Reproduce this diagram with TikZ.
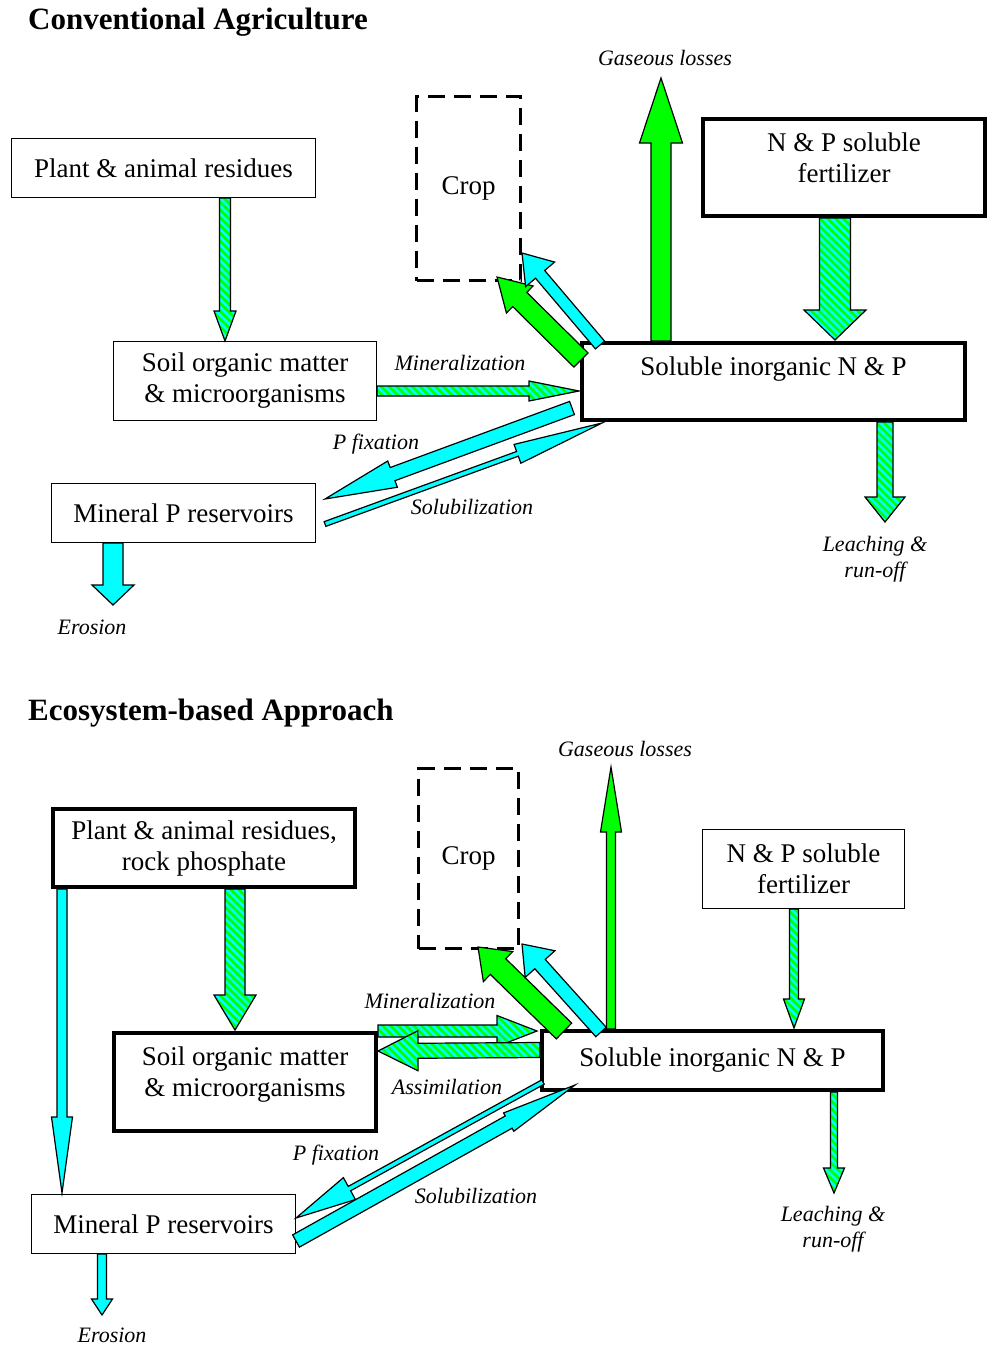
\documentclass[tikz,border=0pt]{standalone}
\usepackage{fontspec}
\setmainfont{Liberation Serif}
\usetikzlibrary{calc,patterns.meta}
\definecolor{agreen}{RGB}{0,255,0}
\definecolor{acyan}{RGB}{0,255,255}
\newcommand\liftup[2]{\raisebox{#1}[\height][\depth]{\begin{tabular}{@{}c@{}}#2\end{tabular}}}
% #1 style, #2 tail coordinate, #3 tip coordinate, #4 shaft half width, #5 head half width, #6 head length
\newcommand\barrow[6]{%
  \coordinate (bh) at ($(#3)!#6!(#2)$);
  \draw[#1] ($(#2)!#4!90:(#3)$) -- ($(bh)!#4!90:(#3)$) -- ($(bh)!#5!90:(#3)$) -- (#3)
     -- ($(bh)!#5!-90:(#3)$) -- ($(bh)!#4!-90:(#3)$) -- ($(#2)!#4!-90:(#3)$) -- cycle;
}
\tikzset{
  box/.style={draw, line width=1pt, align=center, font=\fontsize{27}{31}\selectfont, inner sep=0pt},
  thickbox/.style={box, line width=3.5pt},
  cropbox/.style={box, line width=3pt, dash pattern=on 17pt off 9pt},
  lbl/.style={font=\fontsize{22}{26}\selectfont\itshape, inner sep=0pt, align=center},
  ttl/.style={font=\fontsize{31}{35}\selectfont\bfseries, anchor=west, inner sep=0pt},
  arr/.style={draw=black, line width=1.2pt, line join=miter},
  cyanarr/.style={arr, fill=acyan},
  greenarr/.style={arr, fill=agreen},
  hatcharr/.style={arr, preaction={fill=agreen}, pattern={Lines[angle=-45,distance=5.5pt,line width=2.6pt]}, pattern color=acyan},
}
\begin{document}
\begin{tikzpicture}[x=1pt,y=-1pt]
\useasboundingbox (0,0) rectangle (990,1347);
% titles
\node[ttl] (t1) at (28,22) {Conventional Agriculture};
\node[ttl] (t2) at (28,713) {Ecosystem-based Approach};

% ---------- top diagram ----------
\node[box, minimum width=304pt, minimum height=59pt] (res1) at (163.5,168) {Plant \& animal residues};
\node[cropbox, minimum width=104pt, minimum height=184pt] (crop1) at (468.5,188.5) {Crop};
\node[thickbox, minimum width=282pt, minimum height=97pt] (fert1) at (844,167.5) {\liftup{7pt}{N \& P soluble\\fertilizer}};
\node[box, minimum width=263pt, minimum height=79pt] (soil1) at (245,381) {Soil organic matter\\\& microorganisms};
\node[thickbox, minimum width=383pt, minimum height=77pt] (sol1) at (773.5,381.5) {\liftup{12pt}{Soluble inorganic N \& P}};
\node[box, minimum width=264pt, minimum height=59pt] (min1) at (183.5,513) {Mineral P reservoirs};

\node[lbl] (gas1) at (665,58) {Gaseous losses};
\node[lbl] (minl1) at (460,363) {Mineralization};
\node[lbl] (pfix1) at (376,444) {P fixation};
\node[lbl] (solu1) at (472,507) {Solubilization};
\node[lbl] (leach1) at (875,559) {Leaching \&\\run-off};
\node[lbl] (ero1) at (92,627) {Erosion};

\coordinate (a1s) at (225,198);  \coordinate (a1e) at (225,341);
\coordinate (a2s) at (377,391);  \coordinate (a2e) at (579,391);
\coordinate (a3s) at (572,408);  \coordinate (a3e) at (325,499);
\coordinate (a4s) at (325,524);  \coordinate (a4e) at (602,423);
\coordinate (a5s) at (581,360);  \coordinate (a5e) at (497,277);
\coordinate (a6s) at (600,345);  \coordinate (a6e) at (522,253);
\coordinate (a7s) at (661,341);  \coordinate (a7e) at (661,78);
\coordinate (a8s) at (835,218);  \coordinate (a8e) at (835,340);
\coordinate (a9s) at (885,422);  \coordinate (a9e) at (885,522);
\coordinate (a10s) at (113,543); \coordinate (a10e) at (113,605);

\barrow{hatcharr}{a1s}{a1e}{5.5pt}{11pt}{30pt}
\barrow{hatcharr}{a2s}{a2e}{5pt}{10pt}{50pt}
\barrow{cyanarr}{a3s}{a3e}{7pt}{14pt}{72pt}
\barrow{cyanarr}{a4s}{a4e}{2.5pt}{10pt}{90pt}
\barrow{greenarr}{a5s}{a5e}{10pt}{19pt}{32pt}
\barrow{cyanarr}{a6s}{a6e}{6pt}{19pt}{28pt}
\barrow{greenarr}{a7s}{a7e}{10pt}{21.5pt}{65pt}
\barrow{hatcharr}{a8s}{a8e}{15.5pt}{31pt}{30pt}
\barrow{hatcharr}{a9s}{a9e}{8pt}{20pt}{25pt}
\barrow{cyanarr}{a10s}{a10e}{10pt}{21pt}{20pt}

% ---------- bottom diagram ----------
\node[thickbox, minimum width=302pt, minimum height=78pt] (res2) at (204,848) {Plant \& animal residues,\\rock phosphate};
\node[cropbox, minimum width=100pt, minimum height=180pt] (crop2) at (468.5,858.5) {Crop};
\node[box, minimum width=202pt, minimum height=79pt] (fert2) at (803.5,869) {N \& P soluble\\fertilizer};
\node[thickbox, minimum width=262pt, minimum height=98pt] (soil2) at (245,1082) {\liftup{7pt}{Soil organic matter\\\& microorganisms}};
\node[thickbox, minimum width=341pt, minimum height=59pt] (sol2) at (712.5,1060.5) {Soluble inorganic N \& P};
\node[box, minimum width=264pt, minimum height=59pt] (min2) at (163.5,1224) {Mineral P reservoirs};

\node[lbl] (gas2) at (625,749) {Gaseous losses};
\node[lbl] (minl2) at (430,1001) {Mineralization};
\node[lbl] (assi2) at (447,1087) {Assimilation};
\node[lbl] (pfix2) at (336,1155) {P fixation};
\node[lbl] (solu2) at (476,1196) {Solubilization};
\node[lbl] (leach2) at (833,1229) {Leaching \&\\run-off};
\node[lbl] (ero2) at (112,1335) {Erosion};

\coordinate (b1s) at (62,889);   \coordinate (b1e) at (62,1193);
\coordinate (b2s) at (235,889);  \coordinate (b2e) at (235,1030);
\coordinate (b3s) at (378,1031); \coordinate (b3e) at (537,1031);
\coordinate (b4s) at (540,1050); \coordinate (b4e) at (378,1051);
\coordinate (b5s) at (564,1031); \coordinate (b5e) at (478,947);
\coordinate (b6s) at (601,1032); \coordinate (b6e) at (522,944);
\coordinate (b7s) at (611,1029); \coordinate (b7e) at (611,767);
\coordinate (b8s) at (794,909);  \coordinate (b8e) at (794,1028);
\coordinate (b9s) at (834,1092); \coordinate (b9e) at (834,1193);
\coordinate (b10s) at (543,1082); \coordinate (b10e) at (296,1218);
\coordinate (b11s) at (296,1241); \coordinate (b11e) at (575,1085);
\coordinate (b12s) at (102,1254); \coordinate (b12e) at (102,1315);

\barrow{cyanarr}{b1s}{b1e}{5pt}{10.5pt}{76pt}
\barrow{hatcharr}{b2s}{b2e}{10pt}{21pt}{35pt}
\barrow{hatcharr}{b3s}{b3e}{6pt}{15.5pt}{40pt}
\barrow{hatcharr}{b4s}{b4e}{7.5pt}{20pt}{40pt}
\barrow{greenarr}{b5s}{b5e}{11pt}{21pt}{28pt}
\barrow{cyanarr}{b6s}{b6e}{7pt}{20pt}{27pt}
\barrow{greenarr}{b7s}{b7e}{4.5pt}{10.5pt}{65pt}
\barrow{hatcharr}{b8s}{b8e}{4.5pt}{10.5pt}{29pt}
\barrow{hatcharr}{b9s}{b9e}{3.5pt}{10.5pt}{25pt}
\barrow{cyanarr}{b10s}{b10e}{2.5pt}{12.5pt}{61pt}
\barrow{cyanarr}{b11s}{b11e}{7pt}{10.5pt}{76pt}
\barrow{cyanarr}{b12s}{b12e}{4.5pt}{10.5pt}{16pt}
\end{tikzpicture}
\end{document}
